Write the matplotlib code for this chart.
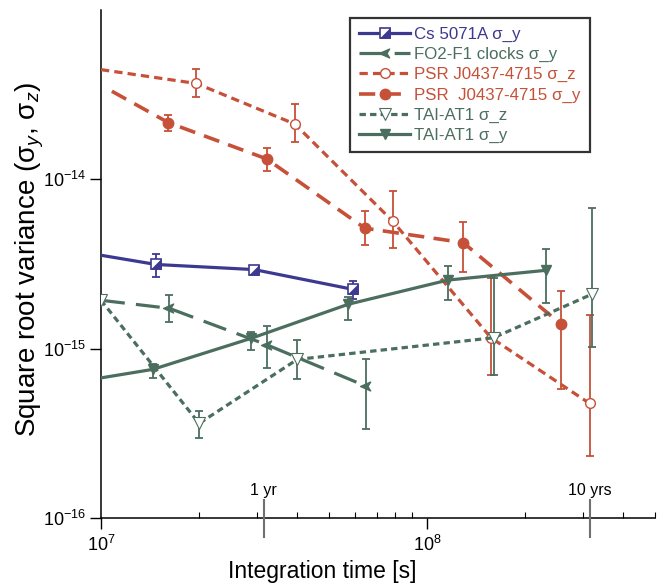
import matplotlib
matplotlib.use('Agg')
import matplotlib.pyplot as plt
from matplotlib.path import Path
from matplotlib.ticker import LogLocator, NullLocator, NullFormatter, FixedLocator
import numpy as np

plt.rcParams['font.family'] = ['Liberation Sans', 'DejaVu Sans']
plt.rcParams['mathtext.fontset'] = 'custom'
plt.rcParams['mathtext.rm'] = 'Liberation Sans'
plt.rcParams['mathtext.it'] = 'Liberation Sans:italic'
plt.rcParams['mathtext.bf'] = 'Liberation Sans:bold'

# ---------------- data ----------------
# Cs 5071A sigma_y
cs_start = (1.0e7, 3.56e-15)
cs_x = [1.475e7, 2.95e7, 5.92e7]
cs_y = [3.14e-15, 2.93e-15, 2.24e-15]
cs_lo = [2.65e-15, np.nan, 1.97e-15]
cs_hi = [3.62e-15, np.nan, 2.51e-15]

# FO2-F1 clocks sigma_y
fo_start = (1.0e7, 1.93e-15)
fo_x = [1.62e7, 3.24e7, 6.49e7]
fo_y = [1.73e-15, 1.05e-15, 6.01e-16]
fo_lo = [1.43e-15, 7.70e-16, 3.35e-16]
fo_hi = [2.07e-15, 1.36e-15, 8.67e-16]

# PSR J0437-4715 sigma_z
pz_start = (1.0e7, 4.44e-14)
pz_x = [1.96e7, 3.93e7, 7.85e7, 1.57e8, 3.15e8]
pz_y = [3.68e-14, 2.12e-14, 5.65e-15, 1.16e-15, 4.75e-16]
pz_lo = [3.06e-14, 1.65e-14, 3.93e-15, 6.98e-16, 2.33e-16]
pz_hi = [4.49e-14, 2.78e-14, 8.53e-15, 2.61e-15, 1.59e-15]

# PSR J0437-4715 sigma_y
py_start = (1.08e7, 3.31e-14)
py_x = [1.61e7, 3.22e7, 6.45e7, 1.29e8, 2.58e8]
py_y = [2.16e-14, 1.32e-14, 5.14e-15, 4.23e-15, 1.39e-15]
py_lo = [1.93e-14, 1.115e-14, 4.08e-15, 2.83e-15, 5.79e-16]
py_hi = [2.39e-14, 1.53e-14, 6.47e-15, 5.60e-15, 2.18e-15]

# TAI-AT1 sigma_z
tz_x = [1.0e7, 2.0e7, 4.0e7, 1.6e8, 3.21e8]
tz_y = [1.93e-15, 3.62e-16, 8.64e-16, 1.16e-15, 2.10e-15]
tz_lo = [1.83e-15, 2.98e-16, 6.61e-16, 6.98e-16, 1.02e-15]
tz_hi = [2.04e-15, 4.28e-16, 1.12e-15, 2.61e-15, 6.81e-15]

# TAI-AT1 sigma_y
ty_start = (1.0e7, 6.72e-16)
ty_x = [1.44e7, 2.885e7, 5.74e7, 1.158e8, 2.31e8]
ty_y = [7.54e-16, 1.15e-15, 1.83e-15, 2.54e-15, 2.90e-15]
ty_lo = [6.72e-16, 9.80e-16, 1.47e-15, 1.93e-15, 1.85e-15]
ty_hi = [8.07e-16, 1.256e-15, 2.02e-15, 3.07e-15, 3.86e-15]

year_ticks = [3.156e7, 3.156e8]
year_labels = ['1 yr', '10 yrs']
y_major = [1e-16, 1e-15, 1e-14]

# ---------------- style ----------------
C_BLUE = '#3d3990'
C_GREEN = '#4b6e5f'
C_RED = '#c65038'
LW = 2.3
ELW = 1.3
CAP = 3.2

half_sq = Path([(-1, -1), (1, -1), (1, 1), (-1, -1)],
               [Path.MOVETO, Path.LINETO, Path.LINETO, Path.CLOSEPOLY])
arrow = Path([(-1, 0), (0.7, 0.75), (0.25, 0), (0.7, -0.75), (-1, 0)],
             [Path.MOVETO, Path.LINETO, Path.LINETO, Path.LINETO, Path.CLOSEPOLY])

fig = plt.figure(figsize=(6.58, 5.84), dpi=100)
ax = fig.add_axes([0.1535, 0.113, 0.8419, 0.870])
ax.set_xscale('log')
ax.set_yscale('log')
ax.set_xlim(1e7, 5.0e8)
ax.set_ylim(1e-16, 1e-13)


def err(ax, x, y, lo, hi, color):
    y = np.array(y); lo = np.array(lo); hi = np.array(hi)
    yerr = np.vstack([y - lo, hi - y])
    ax.errorbar(x, y, yerr=yerr, fmt='none', ecolor=color, elinewidth=ELW,
                capsize=CAP, capthick=ELW, zorder=2)


# PSR sigma_z
err(ax, pz_x, pz_y, pz_lo, pz_hi, C_RED)
l_pz, = ax.plot([pz_start[0]] + pz_x, [pz_start[1]] + pz_y, color=C_RED, lw=LW,
                ls=(0, (2.6, 1.6)), marker='o', markevery=list(range(1, 6)),
                ms=7, mfc='white', mec=C_RED, mew=1.0, zorder=3)
# PSR sigma_y
err(ax, py_x, py_y, py_lo, py_hi, C_RED)
l_py, = ax.plot([py_start[0]] + py_x, [py_start[1]] + py_y, color=C_RED, lw=LW + 0.3,
                ls=(0, (4.5, 2.6)), marker='o', markevery=list(range(1, 6)),
                ms=7.5, mfc=C_RED, mec=C_RED, zorder=3)
# Cs
err(ax, cs_x, cs_y, cs_lo, cs_hi, C_BLUE)
l_cs, = ax.plot([cs_start[0]] + cs_x, [cs_start[1]] + cs_y, color=C_BLUE, lw=LW,
                ls='-', marker='s', markevery=[1, 2, 3], ms=6.5, mfc='white',
                mec=C_BLUE, mew=1.2, zorder=4)
l_cs2, = ax.plot(cs_x, cs_y, ls='none', marker=half_sq, ms=6.5, mfc=C_BLUE,
                 mec=C_BLUE, mew=0.5, zorder=5)
# FO2
err(ax, fo_x, fo_y, fo_lo, fo_hi, C_GREEN)
l_fo, = ax.plot([fo_start[0]] + fo_x, [fo_start[1]] + fo_y, color=C_GREEN, lw=LW,
                ls=(0, (7.5, 3.5)), marker=arrow, markevery=[1, 2, 3], ms=8.5,
                mfc=C_GREEN, mec=C_GREEN, zorder=3)
# TAI sigma_z
err(ax, tz_x, tz_y, tz_lo, tz_hi, C_GREEN)
l_tz, = ax.plot(tz_x, tz_y, color=C_GREEN, lw=LW, ls=(0, (2.0, 1.3)), marker='v',
                ms=8.5, mfc='white', mec=C_GREEN, mew=0.8, zorder=4)
# TAI sigma_y
err(ax, ty_x, ty_y, ty_lo, ty_hi, C_GREEN)
l_ty, = ax.plot([ty_start[0]] + ty_x, [ty_start[1]] + ty_y, color=C_GREEN, lw=LW,
                ls='-', marker='v', markevery=list(range(1, 6)), ms=7.5,
                mfc=C_GREEN, mec=C_GREEN, zorder=3)

# axes styling
for s in ['top', 'right']:
    ax.spines[s].set_visible(False)
for s in ['left', 'bottom']:
    ax.spines[s].set_linewidth(1.1)
ax.xaxis.set_major_locator(LogLocator(base=10, numticks=10))
ax.xaxis.set_minor_locator(LogLocator(base=10, subs=np.arange(2, 10), numticks=20))
ax.xaxis.set_minor_formatter(NullFormatter())
ax.yaxis.set_major_locator(FixedLocator(y_major))
ax.yaxis.set_minor_locator(NullLocator())
ax.tick_params(axis='both', which='major', direction='out', length=8, width=1.0,
               labelsize=13)
ax.tick_params(axis='y', which='major', pad=3)
ax.tick_params(axis='x', which='major', pad=4)
ax.tick_params(axis='x', which='minor', direction='in', length=4, width=0.8)

ax.set_xlabel('Integration time [s]', fontsize=16.5)
ax.xaxis.set_label_coords(0.40, -0.082)
ax.set_ylabel('Square root variance (σ$_y$, σ$_z$)', fontsize=20)
ax.yaxis.set_label_coords(-0.1, 0.51)

trans = ax.get_xaxis_transform()
for xv, lab in zip(year_ticks, year_labels):
    ax.plot([xv, xv], [0.036, -0.037], transform=trans, color='#707070', lw=1.5,
            clip_on=False, zorder=6)
    ax.text(xv, 0.04, lab, transform=trans, ha='center', va='bottom', fontsize=11.5)

leg = ax.legend([(l_cs, l_cs2), l_fo, l_pz, l_py, l_tz, l_ty],
                ['Cs 5071A σ_y', 'FO2-F1 clocks σ_y', 'PSR J0437-4715 σ_z',
                 'PSR  J0437-4715 σ_y', 'TAI-AT1 σ_z', 'TAI-AT1 σ_y'],
                loc='upper right', bbox_to_anchor=(0.883, 0.985), fontsize=12.2,
                frameon=True, fancybox=False, handlelength=3.0, handletextpad=0.25,
                labelspacing=0.3, borderpad=0.55, borderaxespad=0)
leg.get_frame().set_edgecolor('black')
leg.get_frame().set_linewidth(1.6)
for t, c in zip(leg.get_texts(), [C_BLUE, C_GREEN, C_RED, C_RED, C_GREEN, C_GREEN]):
    t.set_color(c)

fig.savefig('out.png', dpi=100)
